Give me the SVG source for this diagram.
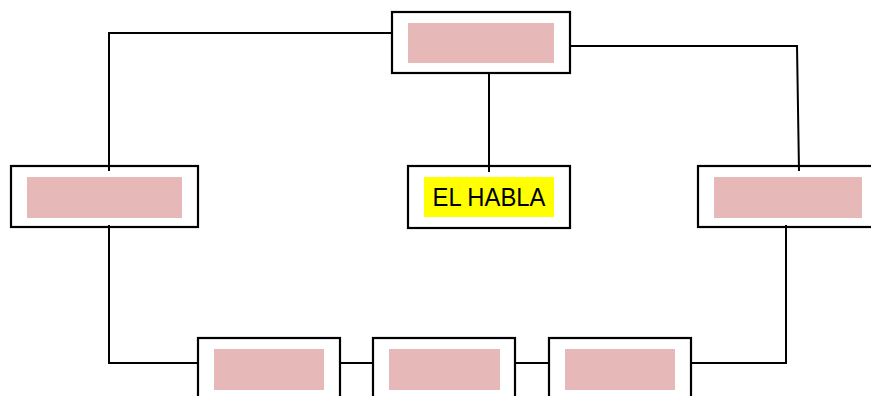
<svg xmlns="http://www.w3.org/2000/svg" width="871" height="396" viewBox="0 0 871 396">
<style>
.box{fill:#fff;stroke:#000;stroke-width:2.2}
.pink{fill:#E6B8B7}
.hl{fill:#FFFF00}
.ln{fill:none;stroke:#000;stroke-width:2}
.t{font-family:"Liberation Sans",Arial,sans-serif;font-size:26px;fill:#000}
</style>
<rect width="871" height="396" fill="#fff"/>
<g id="top">
<rect class="box" x="392" y="12" width="178" height="61"/>
<rect class="pink" x="408" y="23" width="146" height="40"/>
</g>
<g id="habla">
<rect class="box" x="408" y="166" width="162" height="62"/>
<rect class="hl" x="424" y="177" width="130" height="40"/>
<text class="t" x="489" y="206" text-anchor="middle" textLength="113" lengthAdjust="spacingAndGlyphs">EL HABLA</text>
</g>
<g id="left">
<rect class="box" x="11" y="166" width="187" height="61"/>
<rect class="pink" x="27" y="177" width="155" height="41"/>
</g>
<g id="right">
<rect class="box" x="698" y="166" width="187" height="61"/>
<rect class="pink" x="714" y="177" width="148" height="41"/>
</g>
<g id="bottom1">
<rect class="box" x="198" y="338" width="142" height="70"/>
<rect class="pink" x="214" y="349" width="110" height="41"/>
</g>
<g id="bottom2">
<rect class="box" x="373" y="338" width="142" height="70"/>
<rect class="pink" x="389" y="349" width="111" height="41"/>
</g>
<g id="bottom3">
<rect class="box" x="549" y="338" width="142" height="70"/>
<rect class="pink" x="565" y="349" width="110" height="41"/>
</g>
<g id="connectors">
<polyline class="ln" points="392,33 109,33 109,171"/>
<polyline class="ln" points="570,46 797,46 799,171"/>
<line class="ln" x1="489" y1="73" x2="489" y2="172"/>
<polyline class="ln" points="109,225 109,363 198,363"/>
<line class="ln" x1="340" y1="363" x2="373" y2="363"/>
<line class="ln" x1="515" y1="363" x2="549" y2="363"/>
<polyline class="ln" points="691,363 786,363 786,225"/>
</g>
</svg>
